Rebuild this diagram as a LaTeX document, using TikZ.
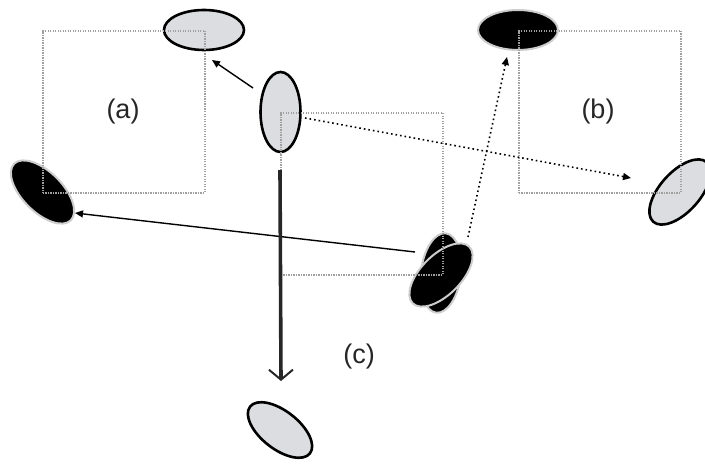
\documentclass[tikz,border=0pt]{standalone}
\usepackage{fontspec}
\setmainfont{Liberation Sans}
\usetikzlibrary{shapes.geometric,arrows.meta}
\definecolor{ellgray}{RGB}{220,221,224}
\definecolor{boxgray}{RGB}{160,160,160}
\definecolor{rimgray}{RGB}{205,205,205}
\tikzset{
  lightell/.style={ellipse, draw=black, line width=2.6pt, fill=ellgray, minimum width=80pt, minimum height=40pt, inner sep=0pt},
  darkell/.style={ellipse, draw=rimgray, line width=2pt, fill=black, minimum width=80pt, minimum height=40pt, inner sep=0pt},
  dotbox/.style={draw=boxgray, line width=1.8pt, dash pattern=on 1.4pt off 1.1pt},
  solidarrow/.style={line width=1.4pt, -{Triangle[length=8pt,width=7pt]}},
  dotarrow/.style={line width=1.6pt, dash pattern=on 1.6pt off 3pt, -{Triangle[length=8pt,width=7pt]}},
  thickarrow/.style={line width=3.6pt, draw=black!85, -{Straight Barb[length=10pt,width=24pt,line width=2pt]}},
  lbl/.style={font=\fontsize{27}{30}\selectfont, text=black!85}
}
\begin{document}
\begin{tikzpicture}[x=1pt,y=-1pt]
\useasboundingbox (0,0) rectangle (705,468);
% ellipses
\node[lightell] (ta) at (204,30) {};
\node[darkell, rotate=-45] (la) at (42.5,192) {};
\node[lightell, rotate=90] (mc) at (280.5,112) {};
\node[darkell] (tb) at (518,30) {};
\node[lightell, rotate=48] (rb) at (680,192) {};
\node[darkell, rotate=83] (cb) at (441,273) {};
\node[darkell, rotate=45] (cf) at (441,275) {};
\node[lightell, rotate=-38, minimum width=76pt, minimum height=38pt] (bc) at (280,430) {};
% boxes
\node[dotbox, minimum width=162pt, minimum height=162pt, inner sep=0pt, anchor=north west] (boxa) at (42,30) {};
\node[dotbox, minimum width=162pt, minimum height=162pt, inner sep=0pt, anchor=north west] (boxb) at (518,30) {};
\node[dotbox, minimum width=162pt, minimum height=162pt, inner sep=0pt, anchor=north west] (boxc) at (280,112) {};
% labels
\node[lbl] (la1) at (123,112) {(a)};
\node[lbl] (lb1) at (598,112) {(b)};
\node[lbl] (lc1) at (359,357) {(c)};
% arrow end points
\coordinate (s1) at (253,88);
\coordinate (e1) at (212,60);
\coordinate (s2) at (305,118);
\coordinate (e2) at (631,178);
\coordinate (s3) at (415,252);
\coordinate (e3) at (75,213);
\coordinate (s4) at (468,237);
\coordinate (e4) at (507,57);
\coordinate (s5) at (280,170);
\coordinate (e5) at (281,381);
% arrows
\draw[solidarrow] (s1) -- (e1);
\draw[dotarrow] (s2) -- (e2);
\draw[solidarrow] (s3) -- (e3);
\draw[dotarrow] (s4) -- (e4);
\draw[thickarrow] (s5) -- (e5);
\end{tikzpicture}
\end{document}
